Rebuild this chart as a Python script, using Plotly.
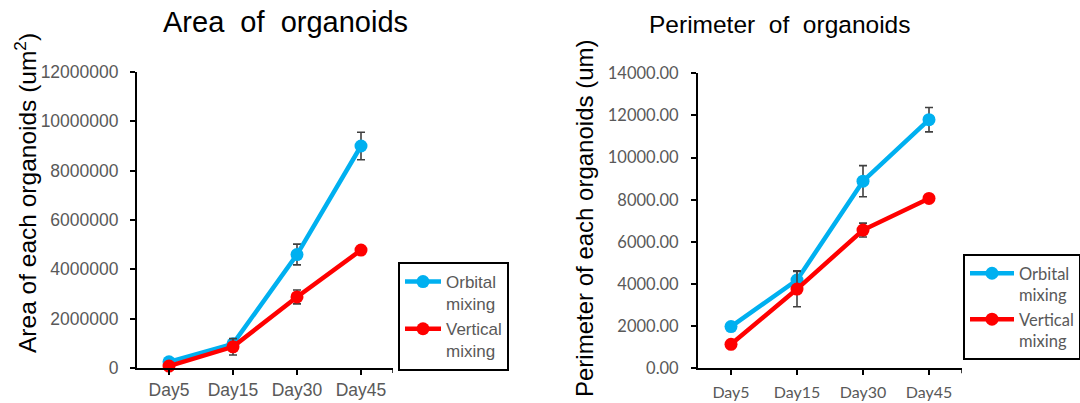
import plotly.graph_objects as go

days = ["Day5", "Day15", "Day30", "Day45"]

area_orbital = [250000, 980000, 4600000, 9000000]
area_orbital_err = [60000, 150000, 420000, 560000]
area_vertical = [80000, 860000, 2880000, 4780000]
area_vertical_err = [30000, 330000, 280000, 60000]

perim_orbital = [1980, 4190, 8880, 11800]
perim_orbital_err = [60, 440, 740, 580]
perim_vertical = [1140, 3760, 6560, 8060]
perim_vertical_err = [40, 840, 330, 60]

area_ticks = [0, 2000000, 4000000, 6000000, 8000000, 10000000, 12000000]
perim_ticks = [0, 2000, 4000, 6000, 8000, 10000, 12000, 14000]

BLUE = "#00B0F0"
RED = "#FF0000"
GRAY = "#595959"
ARIAL = "Liberation Sans"
CAL = "Lato"

W, H = 1080, 403

fig = go.Figure()

def add(x, y, err, name, color, xa, ya, legend):
    fig.add_trace(go.Scatter(
        x=x, y=y, name=name, mode="lines+markers",
        line=dict(color=color, width=4.5),
        marker=dict(color=color, size=13),
        error_y=dict(type="data", array=err, visible=True, color="#404040",
                     thickness=1.6, width=4),
        xaxis=xa, yaxis=ya, legend=legend, cliponaxis=False,
    ))

add(days, area_orbital, area_orbital_err, "Orbital<br>mixing", BLUE, "x", "y", "legend")
add(days, area_vertical, area_vertical_err, "Vertical<br>mixing", RED, "x", "y", "legend")
add(days, perim_orbital, perim_orbital_err, "Orbital<br>mixing", BLUE, "x2", "y2", "legend2")
add(days, perim_vertical, perim_vertical_err, "Vertical<br>mixing", RED, "x2", "y2", "legend2")

def px_x(p):
    return p / W

def px_y(p):
    return (H - p) / H

axis_common = dict(showline=True, linecolor="black", linewidth=2, ticks="outside",
                   ticklen=5, tickwidth=1.5, tickcolor="black", showgrid=False,
                   zeroline=False, automargin=False)

fig.update_layout(
    template="none",
    width=W, height=H, autosize=False,
    margin=dict(l=0, r=0, t=0, b=0, autoexpand=False),
    plot_bgcolor="white", paper_bgcolor="white",
    xaxis=dict(domain=[px_x(137), px_x(393)], type="category", range=[-0.5, 3.5],
               anchor="y", tickfont=dict(family=ARIAL, size=17.5, color=GRAY),
               ticklabelstandoff=0, **axis_common),
    yaxis=dict(domain=[px_y(368), px_y(72)], range=[0, 12000000], anchor="x",
               tickvals=area_ticks, tickformat="d", exponentformat="none",
               tickfont=dict(family=ARIAL, size=17.5, color=GRAY),
               ticklabelstandoff=8, **axis_common),
    xaxis2=dict(domain=[px_x(698), px_x(962)], type="category", range=[-0.5, 3.5],
                anchor="y2", tickfont=dict(family=CAL, size=16, color=GRAY),
                ticklabelstandoff=3, **axis_common),
    yaxis2=dict(domain=[px_y(368.3), px_y(73.3)], range=[0, 14000], anchor="x2",
                tickvals=perim_ticks, tickformat=".2f",
                tickfont=dict(family=CAL, size=16.5, color=GRAY),
                ticklabelstandoff=9, **axis_common),
    legend=dict(x=px_x(398), y=px_y(262), xanchor="left", yanchor="top",
                bordercolor="black", borderwidth=2, bgcolor="white",
                font=dict(family=ARIAL, size=17, color=GRAY),
                valign="top", itemwidth=36),
    legend2=dict(x=px_x(963), y=px_y(254), xanchor="left", yanchor="top",
                 bordercolor="black", borderwidth=2, bgcolor="white",
                 font=dict(family=CAL, size=16.5, color=GRAY),
                 valign="top", itemwidth=44),
    showlegend=True,
)

annotations = [
    dict(text="Area  of  organoids", x=px_x(285), y=px_y(22), xref="paper", yref="paper",
         showarrow=False, font=dict(family=ARIAL, size=29, color="black"),
         xanchor="center", yanchor="middle"),
    dict(text="Perimeter  of  organoids", x=px_x(779), y=px_y(24), xref="paper", yref="paper",
         showarrow=False, font=dict(family=ARIAL, size=24.5, color="black"),
         xanchor="center", yanchor="middle"),
    dict(text="Area of each organoids (um<sup>2</sup>)", x=px_x(25), y=px_y(193),
         xref="paper", yref="paper", showarrow=False, textangle=-90,
         font=dict(family=ARIAL, size=24.5, color="black"),
         xanchor="center", yanchor="middle"),
    dict(text="Perimeter of each organoids (um)", x=px_x(584), y=px_y(218),
         xref="paper", yref="paper", showarrow=False, textangle=-90,
         font=dict(family=ARIAL, size=24, color="black"),
         xanchor="center", yanchor="middle"),
]
fig.update_layout(annotations=annotations)

shapes = []
for xr, yb in (("x", 368), ("x2", 368.3)):
    shapes.append(dict(type="line", xref=xr, yref="paper", x0=3.5, x1=3.5,
                       y0=px_y(yb), y1=px_y(yb + 5), line=dict(color="black", width=1.5)))
fig.update_layout(shapes=shapes)

fig.write_html("out.html")
